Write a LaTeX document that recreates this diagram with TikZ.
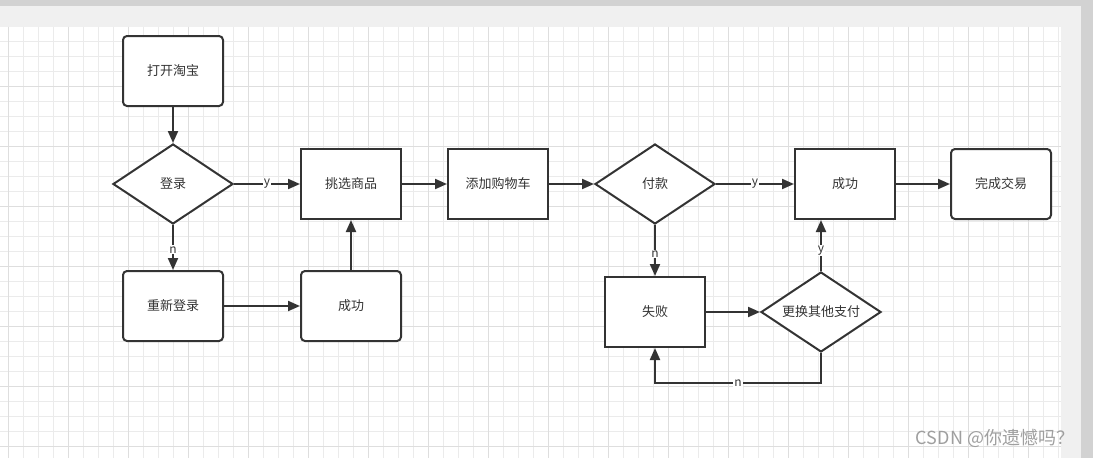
\documentclass[tikz,border=0pt]{standalone}
\usepackage{fontspec}
\setmainfont{Noto Sans CJK SC}
\usepackage{tikz}
\usetikzlibrary{shapes,arrows.meta,calc}
\definecolor{linec}{HTML}{333333}
\definecolor{gridc}{HTML}{EBEBEB}
\definecolor{gridm}{HTML}{DEDEDE}
\definecolor{panelc}{HTML}{F0F0F0}
\definecolor{framec}{HTML}{D2D2D2}
\tikzset{
  >={Triangle[length=12pt,width=10pt]},
  stepbox/.style={rectangle, draw=linec, line width=2pt, fill=white, text=linec,
                  minimum width=100pt, minimum height=70pt,
                  font=\fontsize{13}{13}\selectfont},
  roundbox/.style={stepbox, rounded corners=4pt},
  decide/.style={diamond, aspect=1.5, draw=linec, line width=2pt, fill=white, text=linec,
                 inner sep=0pt, minimum width=120pt, minimum height=80pt,
                 font=\fontsize{13}{13}\selectfont},
  lab/.style={fill=white, inner sep=1pt, text=linec, font=\fontsize{12}{12}\selectfont}
}
\tikzstyle{flow} = [draw=linec, line width=2pt, ->]
\begin{document}
\begin{tikzpicture}[x=1pt,y=-1pt]
\useasboundingbox (0,0) rectangle (1093,458);
% canvas
\fill[framec] (0,0) rectangle (1093,458);
\fill[panelc] (0,6) rectangle (1081,458);
\fill[white] (0,26.7) rectangle (1061,458);
\foreach \x in {8,23,...,1058} \draw[gridc, line width=1pt] (\x,26.7) -- (\x,458);
\foreach \y in {41.7,56.7,...,458} \draw[gridc, line width=1pt] (0,\y) -- (1061,\y);
\foreach \x in {8,68,...,1058} \draw[gridm, line width=1pt] (\x,26.7) -- (\x,458);
\foreach \y in {86.7,146.7,...,458} \draw[gridm, line width=1pt] (0,\y) -- (1061,\y);

% nodes
\node[roundbox] (taobao) at (173,71) {打开淘宝};
\node[decide] (login) at (173,184) {登录};
\node[stepbox] (pick) at (351,184) {挑选商品};
\node[stepbox] (cart) at (498,184) {添加购物车};
\node[decide] (pay) at (655,184) {付款};
\node[stepbox] (ok2) at (845,184) {成功};
\node[roundbox] (finish) at (1001,184) {完成交易};
\node[roundbox] (relogin) at (173,306) {重新登录};
\node[roundbox] (ok1) at (351,306) {成功};
\node[stepbox] (fail) at (655,312) {失败};
\node[decide] (other) at (821,312) {更换其他支付};

% connectors
\draw[flow] (taobao) -- (login);
\draw[flow] (login) -- node[lab] {y} (pick);
\draw[flow] (login) -- node[lab, pos=0.55] {n} (relogin);
\draw[flow] (relogin) -- (ok1);
\draw[flow] (ok1) -- (pick);
\draw[flow] (pick) -- (cart);
\draw[flow] (cart) -- (pay);
\draw[flow] (pay) -- node[lab] {y} (ok2);
\draw[flow] (pay) -- node[lab, pos=0.57] {n} (fail);
\draw[flow] (ok2) -- (finish);
\draw[flow] (fail) -- (other);
\draw[flow] (other.north) -- node[lab, pos=0.4] {y} (other |- ok2.south);
\draw[flow] (other.south) -- ++(0,30) -| node[lab, pos=0.25] {n} (fail.south);

% watermark
\node[text=gray!75, font=\fontsize{18}{18}\selectfont] (mark) at (995,438) {CSDN @你遗憾吗？};
\end{tikzpicture}
\end{document}
